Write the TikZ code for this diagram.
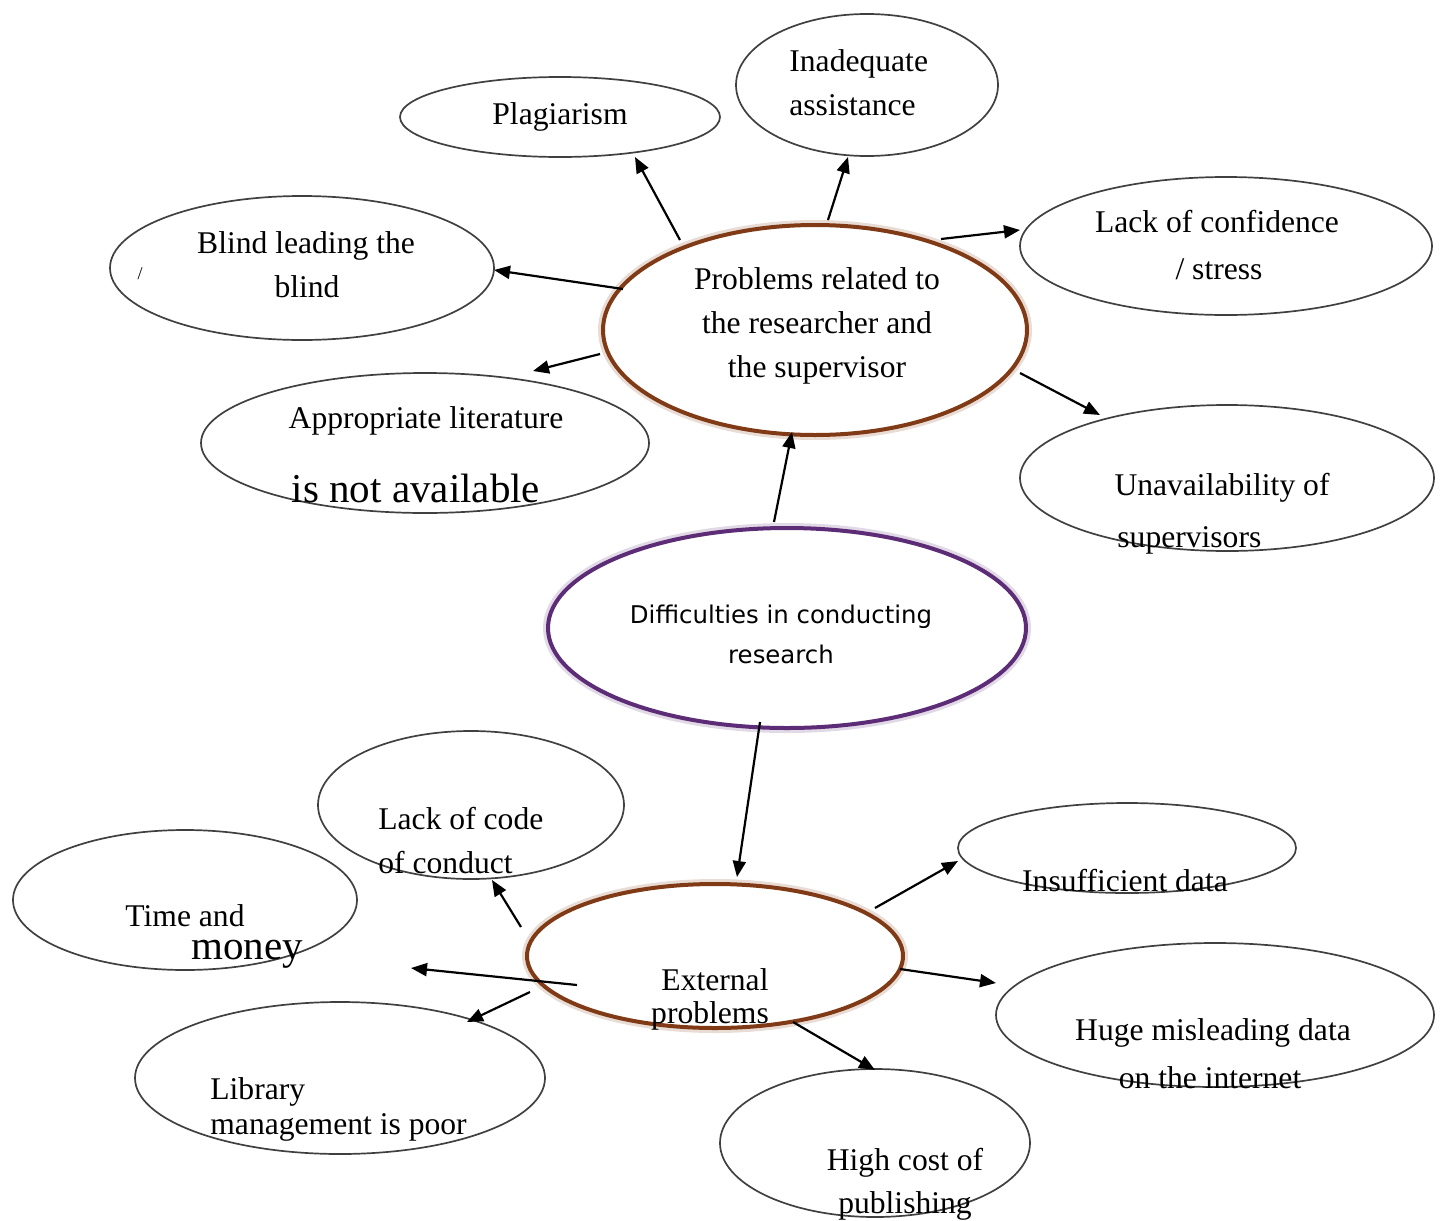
\documentclass[tikz,border=0pt]{standalone}
\usepackage{fontspec}
\setmainfont{Liberation Serif}
\newfontfamily\dvsans{DejaVu Sans}
\usetikzlibrary{shapes.geometric,arrows.meta}
\definecolor{brn}{RGB}{128,58,22}
\definecolor{prp}{RGB}{92,44,118}
\begin{document}
\begin{tikzpicture}[x=0.5pt,y=-0.5pt,
  bub/.style={ellipse,draw=black!75,line width=0.85pt,inner sep=0pt},
  core/.style={ellipse,draw=#1,line width=2pt,inner sep=0pt,fill=white},
  halo/.style={ellipse,draw=#1!18,line width=5pt,inner sep=0pt},
  arr/.style={-{Triangle[length=8pt,width=6.5pt]},line width=1.1pt},
  txt/.style={inner sep=0pt,font=\fontsize{15.8}{19}\selectfont,anchor=base},
  txtw/.style={inner sep=0pt,font=\fontsize{15.8}{19}\selectfont,anchor=base west},
  big/.style={inner sep=0pt,font=\fontsize{20.5}{24}\selectfont,anchor=base},
  sans/.style={inner sep=0pt,font=\dvsans\fontsize{12.2}{14}\selectfont,anchor=base},
]
\useasboundingbox (0,0) rectangle (1446,1221);

% ---- ellipses ----
\node[bub,minimum width=160pt,minimum height=40pt] (plag) at (560,117) {};
\node[bub,minimum width=131pt,minimum height=71pt] (inad) at (867,85) {};
\node[bub,minimum width=206pt,minimum height=69pt] (conf) at (1226,246) {};
\node[bub,minimum width=192pt,minimum height=72pt] (blind) at (302,268) {};
\node[bub,minimum width=224pt,minimum height=70pt] (lit) at (425,443) {};
\node[bub,minimum width=207pt,minimum height=73pt] (unav) at (1227,478) {};
\node[bub,minimum width=153pt,minimum height=74pt] (code) at (471,805) {};
\node[bub,minimum width=172pt,minimum height=70pt] (time) at (185,900) {};
\node[bub,minimum width=169pt,minimum height=45pt] (insuf) at (1127,848) {};
\node[bub,minimum width=219pt,minimum height=72pt] (huge) at (1215,1015) {};
\node[bub,minimum width=205pt,minimum height=76pt] (lib) at (340,1078) {};
\node[bub,minimum width=155pt,minimum height=74pt] (cost) at (875,1143) {};

\node[halo=brn,minimum width=212pt,minimum height=105pt] (probh) at (815,330) {};
\node[core=brn,minimum width=212pt,minimum height=105pt] (prob) at (815,330) {};
\node[halo=prp,minimum width=239pt,minimum height=100pt] (diffh) at (787,628) {};
\node[core=prp,minimum width=239pt,minimum height=100pt] (diff) at (787,628) {};
\node[halo=brn,minimum width=188pt,minimum height=72pt] (exth) at (715,956) {};
\node[core=brn,minimum width=188pt,minimum height=72pt] (ext) at (715,956) {};

% ---- connector end points ----
\coordinate (p1) at (680,240);  \coordinate (t1) at (635,157);
\coordinate (p2) at (828,220);  \coordinate (t2) at (848,157);
\coordinate (p3) at (941,239);  \coordinate (t3) at (1020,230);
\coordinate (p4) at (623,289);  \coordinate (t4) at (494,270);
\coordinate (p5) at (600,354);  \coordinate (t5) at (533,371);
\coordinate (p6) at (1020,373); \coordinate (t6) at (1100,415);
\coordinate (d1) at (774,522);  \coordinate (u1) at (792,432);
\coordinate (d2) at (760,722);  \coordinate (u2) at (737,877);
\coordinate (e1) at (521,927);  \coordinate (f1) at (492,880);
\coordinate (e2) at (577,985);  \coordinate (f2) at (411,968);
\coordinate (e3) at (530,992);  \coordinate (f3) at (467,1022);
\coordinate (e4) at (875,908);  \coordinate (f4) at (958,861);
\coordinate (e5) at (900,969);  \coordinate (f5) at (996,983);
\coordinate (e6) at (793,1022); \coordinate (f6) at (875,1070);

\draw[arr] (p1) -- (t1);
\draw[arr] (p2) -- (t2);
\draw[arr] (p3) -- (t3);
\draw[arr] (p4) -- (t4);
\draw[arr] (p5) -- (t5);
\draw[arr] (p6) -- (t6);
\draw[arr] (d1) -- (u1);
\draw[arr] (d2) -- (u2);
\draw[arr] (e1) -- (f1);
\draw[arr] (e2) -- (f2);
\draw[arr] (e3) -- (f3);
\draw[arr] (e4) -- (f4);
\draw[arr] (e5) -- (f5);
\draw[arr] (e6) -- (f6);

% ---- texts ----
\node[txt] (plagT) at (560,124) {Plagiarism};
\node[txtw] (inadT1) at (789,71) {Inadequate};
\node[txtw] (inadT2) at (789,115) {assistance};
\node[txt] (confT1) at (1217,232) {Lack of confidence};
\node[txt] (confT2) at (1219,279) {/ stress};
\node[txt] (blindT1) at (306,253) {Blind leading the};
\node[txt] (blindT2) at (307,297) {blind};
\node[inner sep=0pt,font=\fontsize{9}{11}\selectfont,anchor=base] (slash) at (140,279) {/};
\node[txt] (probT1) at (817,289) {Problems related to};
\node[txt] (probT2) at (817,333) {the researcher and};
\node[txt] (probT3) at (817,377) {the supervisor};
\node[txt] (litT1) at (426,428) {Appropriate literature};
\node[big] (litT2) at (416,502) {is not available};
\node[txt] (unavT1) at (1222,495) {Unavailability of};
\node[txtw] (unavT2) at (1117,547) {supervisors};
\node[sans] (diffT1) at (781,623) {Difficulties in conducting};
\node[sans] (diffT2) at (781,663) {research};
\node[txtw] (codeT1) at (378,829) {Lack of code};
\node[txtw] (codeT2) at (378,873) {of conduct};
\node[txt] (timeT1) at (185,926) {Time and};
\node[big] (timeT2) at (247,959) {money};
\node[txt] (insufT) at (1125,891) {Insufficient data};
\node[txt] (extT1) at (715,990) {External};
\node[txt] (extT2) at (710,1023) {problems};
\node[txt] (hugeT1) at (1213,1040) {Huge misleading data};
\node[txt] (hugeT2) at (1210,1088) {on the internet};
\node[txtw] (libT1) at (210,1099) {Library};
\node[txtw] (libT2) at (210,1134) {management is poor};
\node[txt] (costT1) at (905,1170) {High cost of};
\node[txt] (costT2) at (905,1213) {publishing};
\end{tikzpicture}
\end{document}
